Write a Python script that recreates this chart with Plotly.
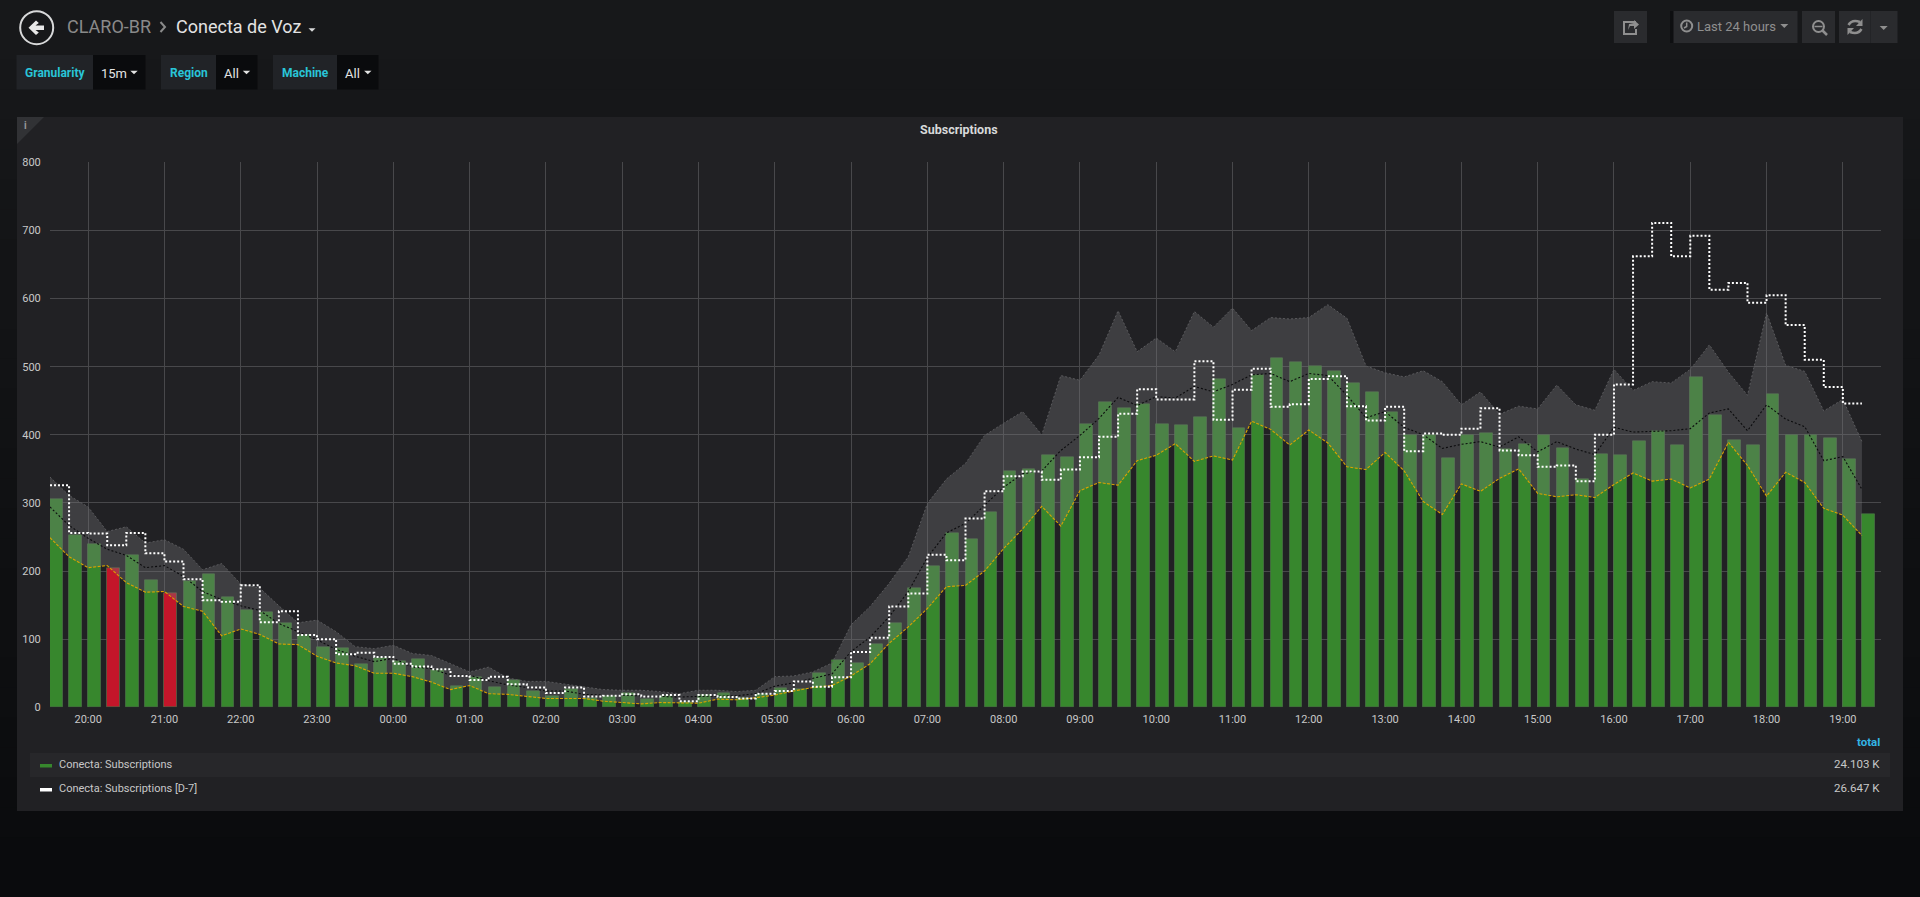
import pandas as pd
import plotly.graph_objects as go

START = "2018-06-01 19:30"
times = pd.date_range(START, periods=96, freq="15min")
hour_labels = ["20:00","21:00","22:00","23:00","00:00","01:00","02:00","03:00","04:00","05:00","06:00","07:00",
               "08:00","09:00","10:00","11:00","12:00","13:00","14:00","15:00","16:00","17:00","18:00","19:00"]
hour_ticks = pd.date_range("2018-06-01 20:00", periods=24, freq="1h")
y_ticks = [0, 100, 200, 300, 400, 500, 600, 700, 800]

subscriptions = [306,253,240,204,223,186,167,185,195,162,143,139,123,105,88,87,63,72,68,70,54,31,44,29,
                 39,24,16,26,13,16,20,12,16,7,17,20,13,19,28,26,50,69,64,93,124,175,207,255,
                 247,286,346,350,370,367,416,448,439,445,415,414,426,482,409,488,513,507,501,493,476,463,433,400,
                 400,365,400,402,378,386,400,380,335,371,370,391,405,384,485,428,392,384,459,400,400,395,364,284]
alert_index = [3, 6]
band_low = [249,221,205,208,183,169,170,148,141,105,115,107,93,92,75,65,61,50,50,45,37,26,32,20,
            19,16,13,13,13,9,7,5,7,7,6,12,11,14,18,24,29,32,46,64,94,118,145,177,
            179,200,233,262,295,266,318,330,326,362,370,387,361,369,363,420,408,385,407,388,353,349,374,347,
            302,283,328,317,336,350,314,309,312,308,327,344,332,335,322,335,389,355,310,345,330,292,282,252]
band_mean = [294,267,248,232,223,205,208,192,170,158,149,142,123,111,99,85,75,67,72,59,57,47,47,39,
             33,29,24,24,19,18,18,17,16,15,16,17,17,20,31,36,43,49,82,103,133,170,220,256,
             270,297,323,343,347,377,399,424,455,443,456,454,471,463,474,488,490,478,490,487,458,425,434,411,
             400,380,386,390,382,397,375,390,379,371,411,404,405,406,409,432,438,406,444,423,412,362,368,320]
band_high = [338,311,294,258,265,241,246,232,202,211,181,175,149,124,128,111,89,86,91,79,76,64,52,59,
             43,38,38,34,30,26,25,25,23,20,25,25,23,25,45,46,52,65,121,148,182,221,299,335,
             358,399,417,434,400,487,480,517,582,522,542,522,581,558,586,553,572,570,572,591,571,501,491,485,
             494,478,444,463,430,442,438,473,444,436,496,465,478,476,496,532,492,458,579,502,493,435,452,390]
previous_week = [326,256,255,238,256,226,214,188,157,155,179,125,141,106,100,78,80,74,64,60,56,46,40,45,
                 34,29,21,29,16,17,19,16,18,9,18,15,13,20,24,38,30,44,81,102,148,167,224,216,
                 277,317,339,346,334,349,367,397,431,467,452,452,508,422,466,497,441,445,482,486,442,421,441,376,
                 402,400,409,439,377,370,353,355,332,400,474,662,711,662,692,613,623,594,605,561,510,470,446,446]

W, H = 1920, 897
PX0, PX1, PY0, PY1 = 50, 1881, 162.3, 707.3
FONT = "Roboto"


def fx(x):
    return x / W


def fy(y):
    return 1 - y / H


shapes = []
annotations = []


def rect(x0, y0, x1, y1, fill, line=None):
    shapes.append(dict(type="rect", xref="paper", yref="paper", x0=fx(x0), x1=fx(x1), y0=fy(y0), y1=fy(y1),
                       fillcolor=fill, line=dict(color=line or fill, width=1 if line else 0), layer="below"))


def poly(points, fill=None, line=None, width=1, close=True):
    d = "M" + " L".join(f"{fx(a):.5f},{fy(b):.5f}" for a, b in points) + (" Z" if close else "")
    shapes.append(dict(type="path", xref="paper", yref="paper", path=d, fillcolor=fill,
                       line=dict(color=line or "rgba(0,0,0,0)", width=width if line else 0), layer="above"))


def circle(cx, cy, r, line, width):
    shapes.append(dict(type="circle", xref="paper", yref="paper", x0=fx(cx - r), x1=fx(cx + r), y0=fy(cy + r),
                       y1=fy(cy - r), line=dict(color=line, width=width), layer="above"))


def caret(cx, cy, w, h, color):
    poly([(cx - w, cy - h / 2), (cx + w, cy - h / 2), (cx, cy + h / 2)], fill=color)


def text(x, y, s, size, color, anchor="left", bold=False):
    annotations.append(dict(xref="paper", yref="paper", x=fx(x), y=fy(y), text=f"<b>{s}</b>" if bold else s,
                            showarrow=False, xanchor=anchor, yanchor="middle",
                            font=dict(family=FONT, size=size, color=color), borderpad=0, borderwidth=0))


# page gradient
N = 30
for k in range(N):
    t = k / (N - 1)
    c = [round(a + (b - a) * t) for a, b in zip((0x17, 0x18, 0x1a), (0x0a, 0x0b, 0x0d))]
    rect(0, H * k / N, W, H * (k + 1) / N + 1, f"rgb({c[0]},{c[1]},{c[2]})")

# panel
rect(17, 117, 1903, 811, "#212124")
rect(30, 753, 1890, 777, "#27272a")
poly([(17, 117), (44, 117), (17, 144)], fill="#313235")
text(25, 125, "i", 10, "#9a9a9a", "center", True)
text(959, 130, "Subscriptions", 12.5, "#d8d9da", "center", True)

# header
circle(36.7, 27.7, 16.5, "#d8d9da", 2)
poly([(28.5, 27.7), (36, 20.5), (38.8, 23), (35.5, 25.5), (44, 25.5), (44, 30), (35.5, 30), (38.8, 32.5), (36, 35)],
     fill="#e8e8e8")
text(67, 27, "CLARO-BR", 18, "#8a8a8a")
poly([(160.5, 22), (165, 27), (160.5, 32)], line="#8a8a8a", width=2, close=False)
text(175.5, 27, "Conecta de Voz", 18, "#e3e3e3")
caret(312, 30, 3.5, 3.5, "#d8d9da")

# variable row
LABEL_BG, VALUE_BG, CYAN = "#212327", "#0a0b0d", "#29c5d8"
for lx0, lx1, vx1, label, value, tx, vx, cx in [
    (16.5, 93, 145.5, "Granularity", "15m", 25, 101, 134),
    (161, 216, 257.5, "Region", "All", 169.5, 224, 246.5),
    (273, 337, 378.5, "Machine", "All", 282, 345, 367.8),
]:
    rect(lx0, 55, lx1, 89.5, LABEL_BG)
    rect(lx1, 55, vx1, 89.5, VALUE_BG)
    text(tx, 73, label, 12, CYAN, bold=True)
    text(vx, 73.5, value, 13, "#e3e3e3")
    caret(cx, 72.5, 3.7, 3.7, "#e3e3e3")

# toolbar
BTN, ICON = "#2a2b2e", "#8f8f8f"
rect(1614, 11, 1647, 43, BTN)
rect(1670, 11, 1674, 43, "#0e0f11")
rect(1673.5, 11, 1797.5, 43, BTN)
rect(1802, 11, 1835, 43, BTN)
rect(1839, 11, 1897.5, 43, BTN)
rect(1870, 11, 1871, 43, "#232427")
poly([(1636, 22), (1624, 22), (1624, 34), (1636, 34), (1636, 29)], line=ICON, width=2, close=False)
poly([(1628, 30), (1629, 24), (1634, 23), (1634, 20), (1639, 24.5), (1634, 29), (1634, 26), (1630, 26)], fill=ICON)
circle(1686.7, 26, 5.5, ICON, 2)
poly([(1686.7, 22.5), (1686.7, 26.5), (1684, 28)], line=ICON, width=1.5, close=False)
text(1696.5, 26, "Last 24 hours", 13, ICON, bold=False)
caret(1784.3, 26, 4, 4, ICON)
circle(1818.5, 26.5, 5.5, ICON, 2)
poly([(1814.5, 26.5), (1822.5, 26.5)], line=ICON, width=1.5, close=False)
poly([(1822.5, 30.5), (1827, 35)], line=ICON, width=2.5, close=False)
shapes.append(dict(type="path", xref="paper", yref="paper", layer="above", line=dict(color=ICON, width=2.5),
                   path=f"M{fx(1848.5)},{fy(25)} Q{fx(1852)},{fy(19)} {fx(1860)},{fy(22)}"))
shapes.append(dict(type="path", xref="paper", yref="paper", layer="above", line=dict(color=ICON, width=2.5),
                   path=f"M{fx(1861.5)},{fy(29)} Q{fx(1858)},{fy(35)} {fx(1850)},{fy(32)}"))
poly([(1862.5, 19), (1862.5, 26), (1856, 26)], fill=ICON)
poly([(1847.5, 35), (1847.5, 28), (1854, 28)], fill=ICON)
caret(1883.7, 28, 4, 4, ICON)

# legend table
rect(40, 764, 52, 767.5, "#37872d")
rect(40, 788, 52, 791.5, "#ffffff")
text(59, 764, "Conecta: Subscriptions", 11, "#c8c8c8")
text(59, 788, "Conecta: Subscriptions [D-7]", 11, "#c8c8c8")
text(1880, 742, "total", 11.5, "#33b5e5", "right", True)
text(1880, 764, "24.103 K", 11.5, "#c8c8c8", "right")
text(1880, 788, "26.647 K", 11.5, "#c8c8c8", "right")

fig = go.Figure()
colors = ["#c4162a" if i in alert_index else "#37872d" for i in range(len(times))]
fig.add_bar(x=times, y=subscriptions, width=600000, offset=0,
            marker=dict(color=colors, line=dict(color="rgba(80,120,75,0.6)", width=1)))
fig.add_scatter(x=times, y=band_low, mode="lines",
                line=dict(color="#d9a300", width=1.1, dash="3px,1.5px"))
fig.add_scatter(x=times, y=band_high, mode="lines", fill="tonexty", fillcolor="rgba(120,120,124,0.33)",
                line=dict(color="#5a5a5d", width=1, dash="2px,2px"))
fig.add_scatter(x=times, y=band_mean, mode="lines", line=dict(color="#0b0b0d", width=1.1, dash="2px,2px"))
fig.add_scatter(x=times, y=previous_week, mode="lines", line=dict(color="#ffffff", width=2, dash="2px,2px", shape="hv"))

fig.update_layout(
    width=W, height=H, margin=dict(l=0, r=0, t=0, b=0, autoexpand=False), autosize=False,
    paper_bgcolor="#0f1012", plot_bgcolor="rgba(0,0,0,0)", showlegend=False, bargap=0,
    shapes=shapes, annotations=annotations, font=dict(family=FONT),
    xaxis=dict(type="date", domain=[fx(PX0), fx(PX1)],
               range=[times[0], times[0] + pd.Timedelta(hours=24)],
               tickmode="array", tickvals=list(hour_ticks), ticktext=hour_labels, showgrid=True,
               gridcolor="#48484b", gridwidth=1, zeroline=False, showline=False, ticks="outside", ticklen=1,
               tickcolor="rgba(0,0,0,0)", tickfont=dict(family=FONT, size=11, color="#c8c8c8")),
    yaxis=dict(domain=[fy(PY1), fy(PY0)], range=[0, 800], tickmode="array", tickvals=y_ticks,
               showgrid=True, gridcolor="#48484b", gridwidth=1, zeroline=False, showline=False,
               ticks="outside", ticklen=6, tickcolor="rgba(0,0,0,0)",
               tickfont=dict(family=FONT, size=11, color="#c8c8c8")),
)
fig.write_html("out.html", config={"displayModeBar": False},
               post_script="document.body.style.margin='0';document.documentElement.style.overflow='hidden';")
